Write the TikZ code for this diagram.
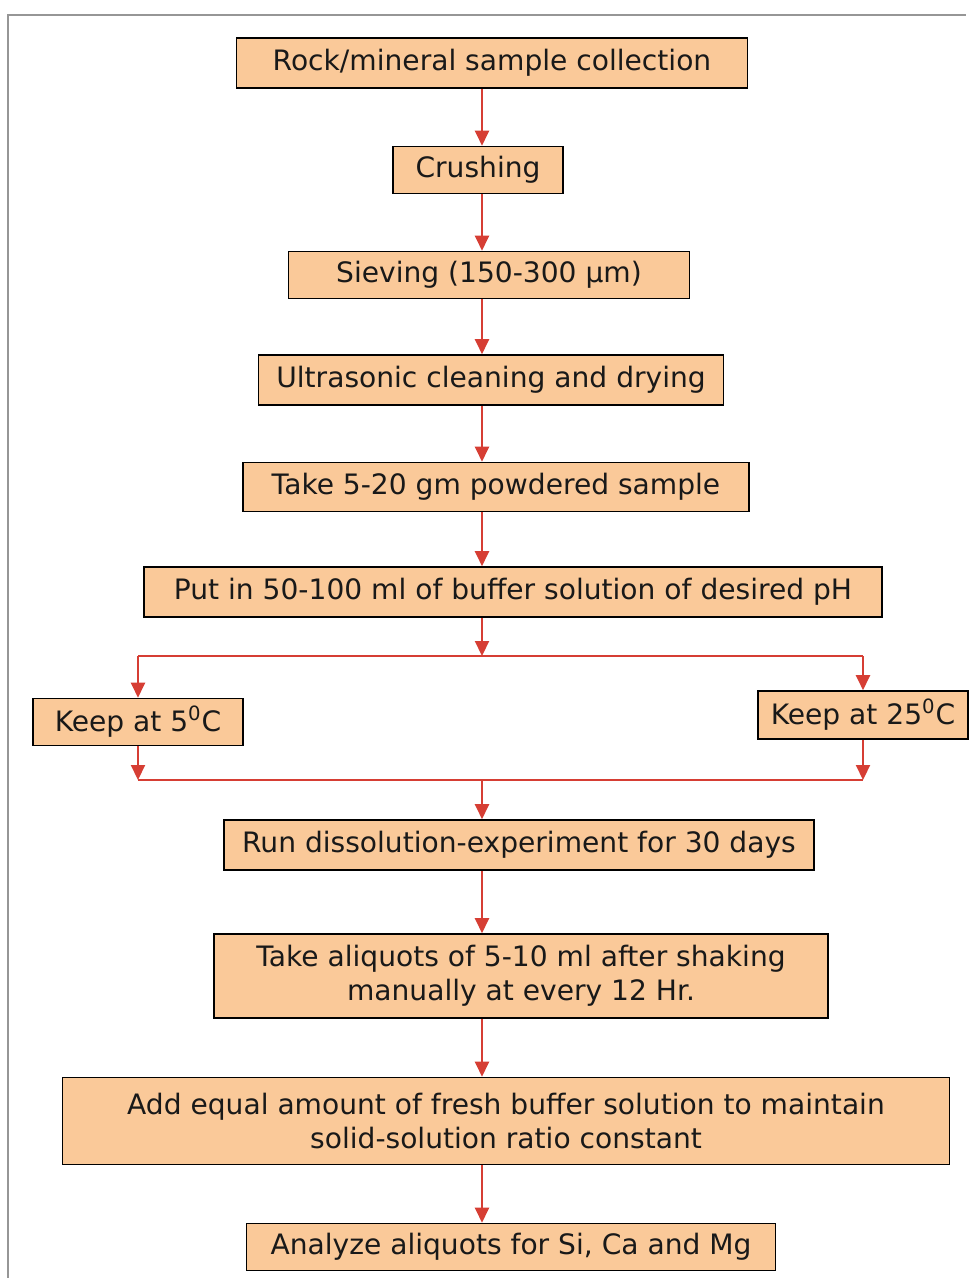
\documentclass[tikz,border=0pt]{standalone}
\usepackage{fontspec}
\setmainfont{DejaVu Sans}
\usetikzlibrary{arrows.meta}
\definecolor{boxfill}{RGB}{250,201,153}
\definecolor{flowred}{RGB}{214,62,52}
\definecolor{framegray}{RGB}{150,150,150}
\tikzset{
  stage/.style={draw=black, line width=0.9pt, fill=boxfill, text=black!90,
    font=\fontsize{16}{19.4}\selectfont, align=center, inner sep=0pt},
  flow/.style={draw=flowred, line width=1.2pt,
    -{Triangle[length=0.3cm, width=0.28cm]}},
  branch/.style={draw=flowred, line width=1.2pt}
}
\begin{document}
\begin{tikzpicture}[x=0.02cm, y=-0.02cm]
\useasboundingbox (0,0) rectangle (975,1278);
% page frame (top and left only)
\draw[framegray, line width=0.6pt] (8,1278) -- (8,15) -- (966,15);

\coordinate (spine) at (482,0);
\node[stage, minimum width=10.22cm, minimum height=1.0cm] (rock) at (492,63) {Rock/mineral sample collection};
\node[stage, minimum width=3.4cm, minimum height=0.94cm] (crush) at (478,170) {Crushing};
\node[stage, minimum width=8.02cm, minimum height=0.94cm] (sieve) at (489,275) {Sieving (150-300 µm)};
\node[stage, minimum width=9.3cm, minimum height=1.0cm] (clean) at (491,380) {Ultrasonic cleaning and drying};
\node[stage, minimum width=10.12cm, minimum height=0.98cm] (take) at (496,487) {Take 5-20 gm powdered sample};
\node[stage, minimum width=14.76cm, minimum height=1.0cm] (buffer) at (513,592) {Put in 50-100 ml of buffer solution of desired pH};
\node[stage, minimum width=4.2cm, minimum height=0.94cm] (cold) at (138,722) {Keep at 5\textsuperscript{0}C};
\node[stage, minimum width=4.2cm, minimum height=0.96cm] (warm) at (863,715) {Keep at 25\textsuperscript{0}C};
\node[stage, minimum width=11.8cm, minimum height=1.0cm] (run) at (519,845) {Run dissolution-experiment for 30 days};
\node[stage, minimum width=12.28cm, minimum height=1.68cm] (aliquot) at (521,976) {Take aliquots of 5-10 ml after shaking\\manually at every 12 Hr.};
\node[stage, minimum width=17.74cm, minimum height=1.74cm] (refill) at (506,1121) {Add equal amount of fresh buffer solution to maintain\\solid-solution ratio constant};
\node[stage, minimum width=10.58cm, minimum height=0.94cm] (analyze) at (511,1247) {Analyze aliquots for Si, Ca and Mg};

% main line
\draw[flow] (rock.south -| spine) -- (crush.north -| spine);
\draw[flow] (crush.south -| spine) -- (sieve.north -| spine);
\draw[flow] (sieve.south -| spine) -- (clean.north -| spine);
\draw[flow] (clean.south -| spine) -- (take.north -| spine);
\draw[flow] (take.south -| spine) -- (buffer.north -| spine);

% split into the two temperatures
\coordinate (split) at (482,656);
\coordinate (join) at (482,780);
\draw[flow] (buffer.south -| spine) -- (split);
\draw[branch] (split -| cold) -- (split -| warm);
\draw[flow] (split -| cold) -- (cold.north);
\draw[flow] (split -| warm) -- (warm.north);
\draw[flow] (cold.south) -- (join -| cold);
\draw[flow] (warm.south) -- (join -| warm);
\draw[branch] (join -| cold) -- (join -| warm);
\draw[flow] (join) -- (run.north -| spine);

\draw[flow] (run.south -| spine) -- (aliquot.north -| spine);
\draw[flow] (aliquot.south -| spine) -- (refill.north -| spine);
\draw[flow] (refill.south -| spine) -- (analyze.north -| spine);
\end{tikzpicture}
\end{document}
